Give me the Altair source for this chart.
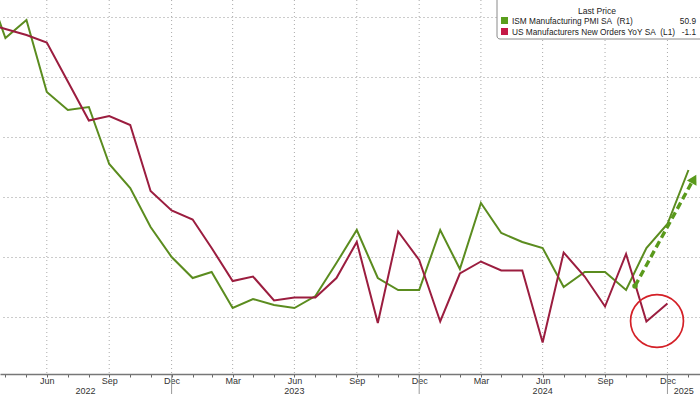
import altair as alt
import pandas as pd

# ---------------- data ----------------
month_ends = pd.date_range("2022-03-31", "2025-01-31", freq="ME")

ism_pmi = [57.2, 55.3, 55.9, 53.5, 52.9, 53.0, 51.1, 50.3, 49.0, 48.0,
           47.3, 47.5, 46.3, 46.6, 46.4, 46.3, 46.7, 47.8, 48.9, 47.3, 46.9, 46.9,
           48.9, 47.6, 49.8, 48.8, 48.5, 48.3, 47.0, 47.5, 47.5, 46.9, 48.3, 49.1,
           50.9]

new_orders_yoy = [17.6, 17.2, 16.8, 16.3, 13.7, 11.1, 11.4, 10.8, 6.4, 5.1,
                  4.5, 2.6, 0.4, 0.7, -0.9, -0.7, -0.7, 0.6, 3.0, -2.4, 3.7, 1.8,
                  -2.3, 0.9, 1.7, 1.1, 1.1, -3.7, 2.3, 0.7, -1.3, 2.2, -2.3, -1.1]

tick_months = pd.date_range("2022-04-30", "2025-01-31", freq="ME")
quarter_grid = pd.date_range("2022-06-30", "2024-12-31", freq="QE")
year_breaks = ["2022-12-31", "2023-12-31", "2024-12-31"]
year_labels = ["2022", "2023", "2024", "2025"]
year_label_pos = ["2022-08-26", "2023-06-30", "2024-06-30", "2025-01-24"]
pmi_grid = [46, 48, 50, 52, 54, 56]

legend_names = ["ISM Manufacturing PMI SA\u00a0\u00a0(R1)",
                "US Manufacturers New Orders YoY SA\u00a0\u00a0(L1)"]
legend_last = ["50.9", "-1.1"]

# ---------------- styling ----------------
GREEN = "#5b8c1f"
RED = "#9b1d3f"
GREEN_SW = "#5a9e1c"
RED_SW = "#c41846"
FONT = "Liberation Sans, Arial, sans-serif"

df_g = pd.DataFrame({"date": month_ends.strftime("%Y-%m-%d"), "v": ism_pmi})
df_r = pd.DataFrame({"date": month_ends[:len(new_orders_yoy)].strftime("%Y-%m-%d"),
                     "v": new_orders_yoy})
df_q = pd.DataFrame({"date": quarter_grid.strftime("%Y-%m-%d")})
df_yb = pd.DataFrame({"date": year_breaks})
df_yl = pd.DataFrame({"date": year_label_pos, "label": year_labels})

tick_ms = [int(pd.Timestamp(d).timestamp() * 1000) for d in tick_months]

x_scale = alt.Scale(type="utc",
                    domain=[alt.DateTime(year=2022, month=4, date=22, utc=True),
                            alt.DateTime(year=2025, month=2, date=17, utc=True)])
x_axis = alt.Axis(values=tick_ms,
                  labelExpr="utcmonth(datum.value) % 3 == 2 ? utcFormat(datum.value, '%b') : ''",
                  grid=False, tickSize=3, tickColor="#666", domainColor="#777",
                  domainWidth=1.3, labelFontSize=9, labelColor="#333", labelFont=FONT,
                  labelBaseline="alphabetic", labelPadding=6,
                  labelOverlap=False, labelFlush=False, title=None)


def X():
    return alt.X("date:T", scale=x_scale, axis=x_axis)


vgrid = alt.Chart(df_q).mark_rule(color="#aaa", strokeDash=[1, 3], strokeWidth=1).encode(x=X())

green = alt.Chart(df_g).mark_line(color=GREEN, strokeWidth=2, clip=True).encode(
    x=X(),
    y=alt.Y("v:Q", scale=alt.Scale(domain=[44.1, 56.5667], nice=False, zero=False),
            axis=alt.Axis(values=pmi_grid, labels=False, ticks=False, domain=False,
                          grid=True, gridDash=[1, 3], gridColor="#999", title=None,
                          orient="right")))

red = alt.Chart(df_r).mark_line(color=RED, strokeWidth=2, clip=True).encode(
    x=X(),
    y=alt.Y("v:Q", scale=alt.Scale(domain=[-5.8, 19.1333], nice=False, zero=False),
            axis=None))

ysep = alt.Chart(df_yb).mark_rule(color="#999", strokeWidth=1).encode(
    x=X(), y=alt.value(375), y2=alt.value(394))

ytext = alt.Chart(df_yl).mark_text(fontSize=9, font=FONT, color="#333",
                                   baseline="alphabetic", align="center").encode(
    x=X(), y=alt.value(393.5), text="label:N")

one = pd.DataFrame({"a": [0]})

circle = alt.Chart(one).mark_point(shape="circle", size=2800, filled=False, opacity=1,
                                   color="#d42027", strokeWidth=1.7).encode(
    x=alt.value(657), y=alt.value(321))

arrow_shaft = alt.Chart(one).mark_rule(color="#5a9a1c", strokeWidth=3.4,
                                       strokeDash=[7, 4]).encode(
    x=alt.value(635), y=alt.value(286), x2=alt.value(692), y2=alt.value(182))
arrow_dot = alt.Chart(one).mark_point(shape="circle", size=30, filled=True,
                                      color="#5a9a1c", opacity=1).encode(
    x=alt.value(635), y=alt.value(286))
arrow_head = alt.Chart(one).mark_point(shape="triangle-up", size=120, filled=True,
                                       color="#5a9a1c", opacity=1, angle=29).encode(
    x=alt.value(694), y=alt.value(179))

leg_box = alt.Chart(one).mark_rect(fill="white", stroke="#8a8a8a", strokeWidth=1,
                                   cornerRadius=3).encode(
    x=alt.value(497), x2=alt.value(712), y=alt.value(-5), y2=alt.value(39))

leg_title = alt.Chart(one).mark_text(text="Last Price", fontSize=8.6, font=FONT,
                                     color="#222", align="center",
                                     baseline="alphabetic").encode(
    x=alt.value(597), y=alt.value(14))

leg_layers = [leg_box, leg_title]
for i, (nm, lv, sw) in enumerate(zip(legend_names, legend_last, [GREEN_SW, RED_SW])):
    yb = 24 + 11 * i
    leg_layers.append(alt.Chart(one).mark_rect(fill=sw).encode(
        x=alt.value(501), x2=alt.value(508), y=alt.value(yb - 7), y2=alt.value(yb)))
    leg_layers.append(alt.Chart(one).mark_text(text=nm, fontSize=8.3, font=FONT,
                                               color="#222", align="left",
                                               baseline="alphabetic").encode(
        x=alt.value(512), y=alt.value(yb)))
    leg_layers.append(alt.Chart(one).mark_text(text=lv, fontSize=8.3, font=FONT,
                                               color="#222", align="right",
                                               baseline="alphabetic").encode(
        x=alt.value(696), y=alt.value(yb)))

chart = alt.layer(vgrid, green, red, ysep, ytext, circle, arrow_shaft, arrow_dot,
                  arrow_head, *leg_layers).resolve_scale(y="independent").properties(
    width=700, height=374,
    autosize=alt.AutoSizeParams(type="none"),
    padding={"left": 0, "top": 0, "right": 0, "bottom": 20},
    background="white",
).configure_view(strokeWidth=0)

chart.save("out.html", embed_options={"renderer": "svg", "actions": False})
